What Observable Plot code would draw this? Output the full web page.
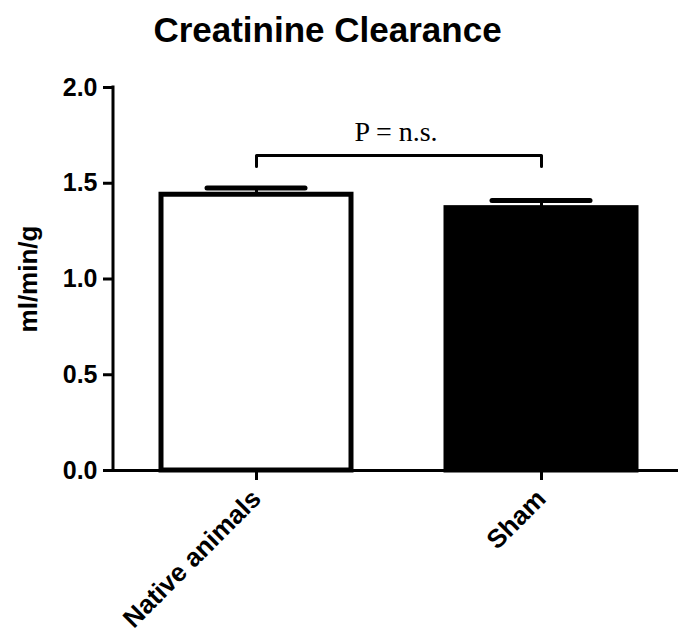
<!DOCTYPE html>
<html>
<head>
<meta charset="utf-8">
<script src="https://cdn.jsdelivr.net/npm/d3@7"></script>
<script src="https://cdn.jsdelivr.net/npm/@observablehq/plot@0.6"></script>
<style>
  html, body { margin: 0; padding: 0; background: white; }
  #title { width: 655px; height: 60px; line-height: 60px; text-align: center;
           font-family: "Liberation Sans", Arial, sans-serif; font-weight: bold; font-size: 35px; color: black; }
  svg { display: block; }
</style>
</head>
<body>
<div id="title">Creatinine Clearance</div>
<div id="chart"></div>
<script>
const categories = ["Native animals", "Sham"];
const means = [1.44, 1.37];
const errors = [0.035, 0.04];
const yTicks = [0, 0.5, 1.0, 1.5, 2.0];
const yLabel = "ml/min/g";
const pLabel = "P = n.s.";
const bracketTop = 1.645;
const bracketFoot = 1.587;
const pLabelY = 1.77;

const data = categories.map((c, i) => ({category: c, mean: means[i], err: errors[i]}));
const bracket = [
  {category: categories[0], v: bracketFoot},
  {category: categories[0], v: bracketTop},
  {category: categories[1], v: bracketTop},
  {category: categories[1], v: bracketFoot}
];

function yAxisLine(index, scales, values, dimensions, context) {
  const doc = (context && context.document) || document;
  const line = doc.createElementNS("http://www.w3.org/2000/svg", "line");
  const x = dimensions.marginLeft;
  line.setAttribute("x1", x);
  line.setAttribute("x2", x);
  line.setAttribute("y1", scales.y(yTicks[0]));
  line.setAttribute("y2", scales.y(yTicks[yTicks.length - 1]));
  line.setAttribute("stroke", "black");
  line.setAttribute("stroke-width", 3);
  line.setAttribute("stroke-linecap", "square");
  return line;
}

const chart = Plot.plot({
  width: 678,
  height: 575,
  marginTop: 27,
  marginBottom: 165,
  marginLeft: 113,
  marginRight: 0,
  style: {fontFamily: "Liberation Sans, Arial, sans-serif", fontWeight: "bold", color: "black", background: "white", overflow: "visible"},
  x: {domain: categories, range: [113, 683.5], paddingInner: 0.3345, paddingOuter: 0.1664},
  y: {domain: [0, 2]},
  color: {domain: categories, range: ["white", "black"]},
  marks: [
    Plot.barY(data, {x: "category", y: "mean", fill: "category", stroke: "black", strokeWidth: 5}),
    Plot.ruleX(data, {x: "category", y1: "mean", y2: d => d.mean + d.err, stroke: "black", strokeWidth: 3}),
    Plot.tickY(data, {x: "category", y: d => d.mean + d.err, stroke: "black", strokeWidth: 5, insetLeft: 46, insetRight: 46, strokeLinecap: "round"}),
    Plot.ruleY([0], {stroke: "black", strokeWidth: 3}),
    yAxisLine,
    Plot.axisY(yTicks, {tickSize: 10, tickPadding: 6, strokeWidth: 3, tickFormat: d3.format(".1f"), fontSize: 25, fontWeight: "bold", label: null}),
    Plot.axisX({tickSize: 10, strokeWidth: 3, tickRotate: -45, fontSize: 26, fontWeight: "bold", tickPadding: 14, label: null}),
    Plot.text([yLabel], {frameAnchor: "left", textAnchor: "middle", rotate: -90, dx: -77, lineAnchor: "bottom", fontSize: 26, fontWeight: "bold"}),
    Plot.line(bracket, {x: "category", y: "v", stroke: "black", strokeWidth: 3, strokeLinejoin: "round"}),
    Plot.text([pLabel], {y: () => pLabelY, fontFamily: "Liberation Serif, Times New Roman, serif", fontWeight: "normal", fontSize: 28})
  ]
});
document.getElementById("chart").appendChild(chart);
</script>
</body>
</html>
